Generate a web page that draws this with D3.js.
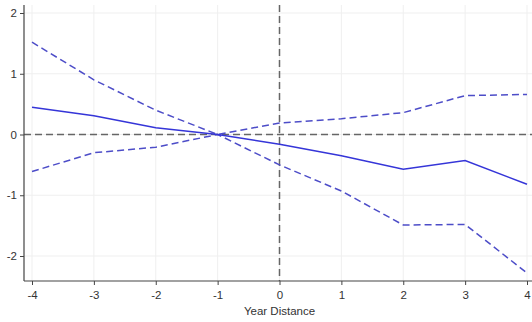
<!DOCTYPE html>
<html>
<head>
<meta charset="utf-8">
<script src="https://cdn.jsdelivr.net/npm/d3@7/dist/d3.min.js"></script>
<style>
  html, body { margin: 0; padding: 0; background: #fff; }
  svg { display: block; font-family: "Liberation Sans", Arial, sans-serif; }
</style>
</head>
<body>
<svg id="chart" width="532" height="322"></svg>
<script>
// Event-study estimates by year distance, with 95% confidence bounds
const yearDistance = [-4, -3, -2, -1, 0, 1, 2, 3, 4];
const estimate     = [0.45, 0.31, 0.11, 0, -0.16, -0.35, -0.57, -0.43, -0.82];
const upperBound   = [1.52, 0.90, 0.40, 0, 0.19, 0.26, 0.36, 0.64, 0.66];
const lowerBound   = [-0.61, -0.30, -0.21, 0, -0.50, -0.93, -1.49, -1.48, -2.28];
const xTicks = [-4, -3, -2, -1, 0, 1, 2, 3, 4];
const yTicks = [-2, -1, 0, 1, 2];

const svg = d3.select("#chart");
const plot = { left: 24, right: 532, top: 5, bottom: 281 };

const x = d3.scaleLinear().domain([-4, 4]).range([32, 527]);
const y = d3.scaleLinear().domain([-2, 2]).range([256, 13]);

// light grid
svg.append("g").selectAll("line").data(xTicks).join("line")
  .attr("x1", d => x(d)).attr("x2", d => x(d))
  .attr("y1", plot.top).attr("y2", plot.bottom)
  .attr("stroke", "#efefef").attr("stroke-width", 1);
svg.append("g").selectAll("line").data(yTicks).join("line")
  .attr("x1", plot.left).attr("x2", plot.right)
  .attr("y1", d => y(d)).attr("y2", d => y(d))
  .attr("stroke", "#efefef").attr("stroke-width", 1);

// reference lines at zero
svg.append("line")
  .attr("x1", plot.left).attr("x2", plot.right)
  .attr("y1", y(0)).attr("y2", y(0))
  .attr("stroke", "#666").attr("stroke-width", 1.5).attr("stroke-dasharray", "7,4");
svg.append("line")
  .attr("x1", x(0)).attr("x2", x(0))
  .attr("y1", plot.top).attr("y2", plot.bottom)
  .attr("stroke", "#666").attr("stroke-width", 1.5).attr("stroke-dasharray", "7,4");

const line = d3.line().x((d, i) => x(yearDistance[i])).y(d => y(d));

svg.append("path").datum(upperBound).attr("d", line)
  .attr("fill", "none").attr("stroke", "#4d4dc8").attr("stroke-width", 1.5)
  .attr("stroke-dasharray", "7,4");
svg.append("path").datum(lowerBound).attr("d", line)
  .attr("fill", "none").attr("stroke", "#4d4dc8").attr("stroke-width", 1.5)
  .attr("stroke-dasharray", "7,4");
svg.append("path").datum(estimate).attr("d", line)
  .attr("fill", "none").attr("stroke", "#3535d8").attr("stroke-width", 1.5);

// axes (plain hyphen for negative labels)
const fmt = d => String(d);
const xAxis = svg.append("g").attr("transform", `translate(0,${plot.bottom})`)
  .call(d3.axisBottom(x).tickValues(xTicks).tickSize(4).tickPadding(6).tickFormat(fmt));
xAxis.select(".domain").attr("d", `M${plot.left},0H${plot.right}`);
const yAxis = svg.append("g").attr("transform", `translate(${plot.left},0)`)
  .call(d3.axisLeft(y).tickValues(yTicks).tickSize(4).tickPadding(3).tickFormat(fmt));
yAxis.select(".domain").attr("d", `M0,${plot.top}V${plot.bottom}`);

svg.selectAll(".tick text").attr("font-size", 11.5).attr("fill", "#333")
  .attr("font-family", "'Liberation Sans', Arial, sans-serif");
svg.selectAll(".tick line").attr("stroke", "#444");
svg.selectAll(".domain").attr("stroke", "#444").attr("stroke-width", 1.2);

svg.append("text")
  .attr("x", x(0)).attr("y", 315)
  .attr("text-anchor", "middle").attr("font-size", 11.5).attr("fill", "#333")
  .text("Year Distance");
</script>
</body>
</html>
